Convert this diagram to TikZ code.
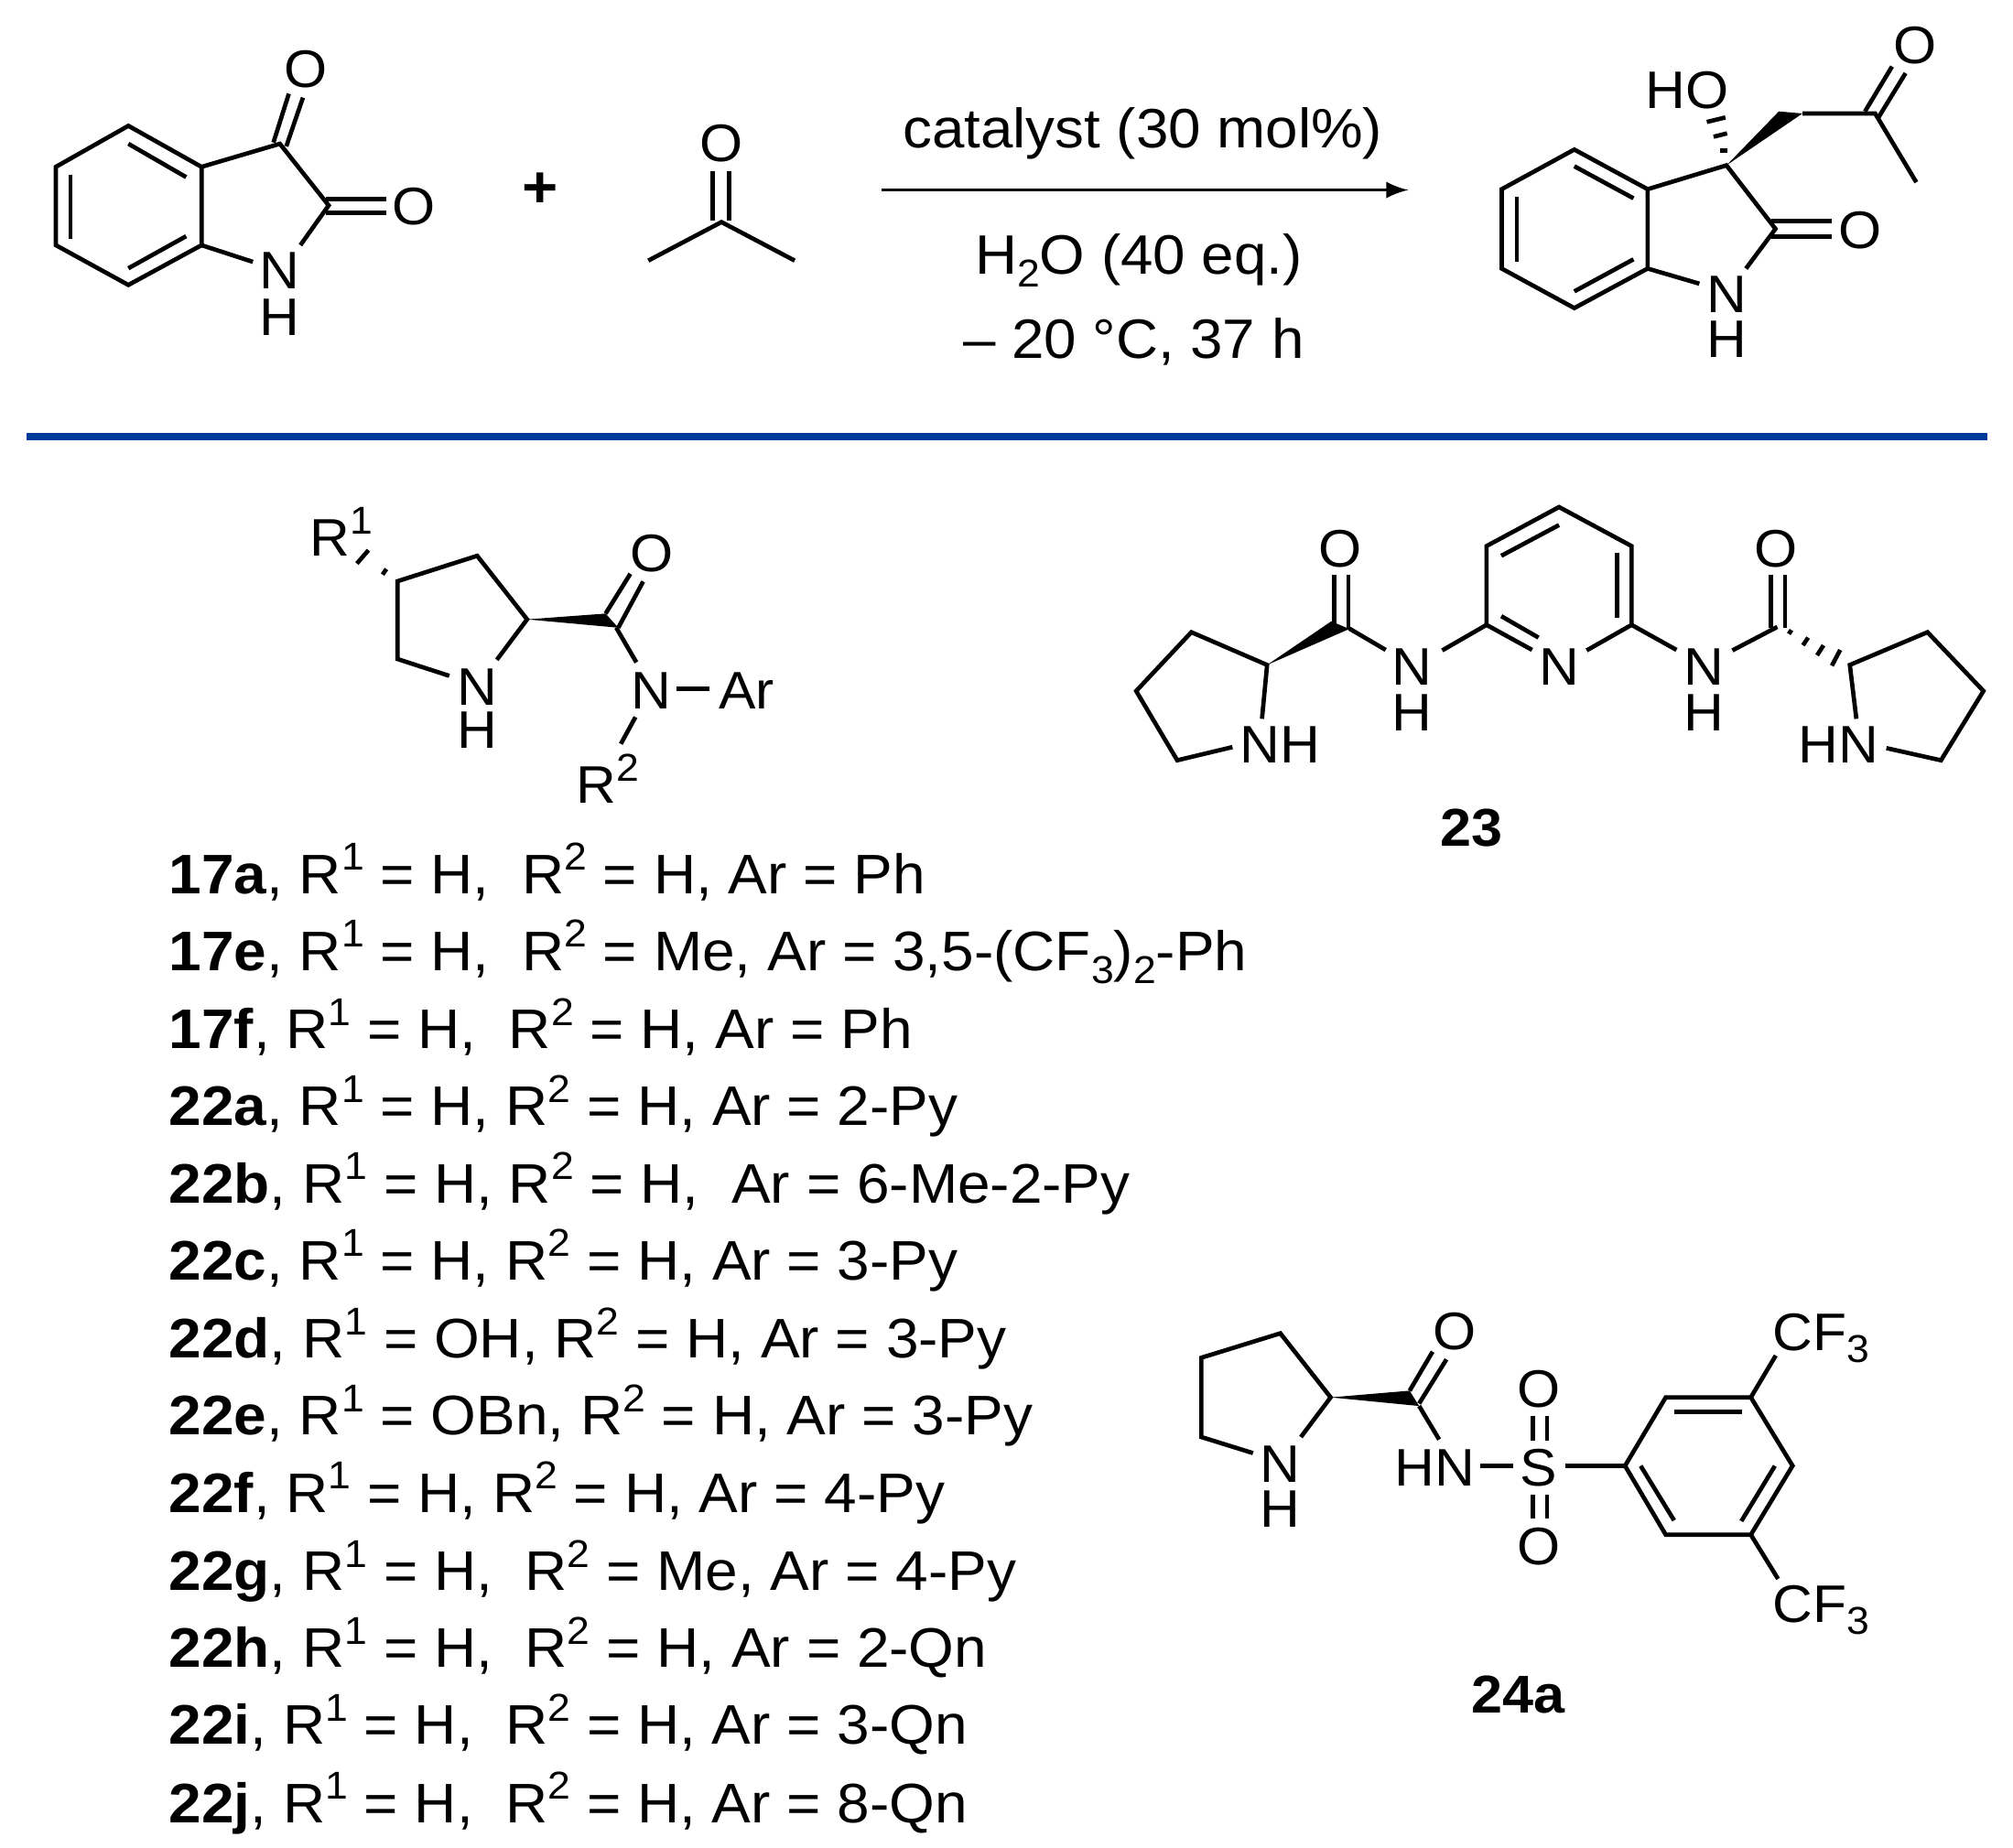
\documentclass[tikz,border=0pt]{standalone}
\usepackage{fontspec}
\setmainfont[FakeStretch=1.05]{Liberation Sans}
\usetikzlibrary{scopes}
\definecolor{rule}{RGB}{0,58,155}
\newcommand{\sups}[1]{\raisebox{.42em}{\fontsize{8.6}{9}\selectfont #1}}
\newcommand{\subs}[1]{\raisebox{-.23em}{\fontsize{8.6}{9}\selectfont #1}}
\begin{document}
\begin{tikzpicture}[
    x=0.01cm,y=-0.01cm,
    bond/.style={line width=0.95pt,line join=miter,line cap=butt},
    wedge/.style={fill=black,draw=black,line width=0.2pt},
    atom/.style={font=\fontsize{11.7}{14}\selectfont,inner sep=0pt},
    cond/.style={font=\fontsize{12.3}{15}\selectfont,inner sep=0pt},
    lbl/.style={font=\fontsize{11.8}{15}\selectfont\bfseries,inner sep=0pt},
    entry/.style={font=\fontsize{12.35}{15}\selectfont,inner sep=0pt,anchor=base west},
    divider/.style={draw=rule,line width=1.55pt},
]
	\useasboundingbox (0,0) rectangle (1568,1439.6);
	{[bond]
	% isatin
	\draw (100,98)--(157,130)--(157,191)--(100,222)--(43.5,191)--(43.5,130)--cycle; %benzene
	\draw (100,112)--(145,138); \draw (100,209)--(145,184); \draw (55,136)--(55,186); %inner
	\draw (157,130)--(218,112)--(256,160)--(234,191); %ring
	\draw (157,191)--(197,204);
	\draw (213,111)--(225,73); \draw (223,114)--(236,76); %upper CO
	\draw (254,155)--(301,155); \draw (254,166)--(301,166); %lower CO
	% acetone
	\draw (505,203)--(562,173)--(619,203);
	\draw (555,172)--(555,133); \draw (568,172)--(568,133);
	% product
	\draw (1226.3,116.5)--(1283.4,147.4)--(1283.4,209.2)--(1226.3,240)--(1169.7,209.2)--(1169.7,147.4)--cycle; %benzene
	\draw (1226.3,129.5)--(1272.4,154.5); \draw (1226.3,227)--(1272.4,202); \draw (1181.5,153.3)--(1181.5,204); %inner
	\draw (1283.4,147.4)--(1344.8,128.8)--(1383,178.3)--(1360,209.2); %ring
	\draw (1283.4,209.2)--(1323.7,221);
	\draw (1380,172.3)--(1427,172.3); \draw (1380,184.2)--(1427,184.2); %lactam CO
	\draw (1404,88.4)--(1460.6,88.4)--(1492.7,142); %side chain
	\draw (1452.7,86.8)--(1473.8,51.8); \draw (1463.2,91.5)--(1484.3,57); %ketone CO
	\draw (1329.5,95)--(1344,91.5); \draw (1334.8,106.5)--(1345.3,103.9); \draw (1339.5,117.2)--(1345.3,117.2); %hash
	% catalyst 17, 22
	\draw (350,526.5)--(309.6,513.4)--(309.6,452.8)--(371.7,433)--(410.6,482.5)--(387,514); %ring
	\draw (471.7,478)--(491,447); \draw (481.6,489)--(501,453); %CO
	\draw (480,489)--(495.7,516);
	\draw (526.7,536.5)--(552.7,536.5); %N-Ar
	\draw (495,558.6)--(483.6,579.5); %N-R2
	\draw (287,428.6)--(278,439); \draw (301,443.3)--(298,447.6); %hash
	% catalyst 23
	\draw (960,582)--(917,592.3)--(885,538.3)--(928,492.5)--(987,518)--(983,560); %left ring
	\draw (1039.4,486.7)--(1039.4,448); \draw (1050.4,489.6)--(1050.4,448); %left CO
	\draw (1050.9,489.6)--(1079.4,506.3); \draw (1123.4,506.7)--(1157.9,486.8);
	\draw (1193.4,506.3)--(1157.9,486.8)--(1157.9,425.4)--(1214.4,395)--(1270.9,425.4)--(1270.9,486.8)--(1235.9,506.7); %pyridine
	\draw (1169.4,433)--(1214.4,409); \draw (1259.4,431)--(1259.4,481.3); \draw (1169.4,480)--(1198.4,496.7); %inner
	\draw (1270.9,486.8)--(1305.9,506.3); \draw (1349.4,506.7)--(1384.4,488.4);
	\draw (1379.4,489)--(1379.4,448); \draw (1390.4,489)--(1390.4,448); %right CO
	\draw (1393.4,493.9)--(1395.4,490.8); \draw (1404.4,502.7)--(1408.4,496.7); %hash
	\draw (1415.4,510.5)--(1420.4,502.7); \draw (1426.9,518.6)--(1433.4,506.3);
	\draw (1469.4,582.8)--(1511.9,592.3)--(1545,538.3)--(1501.4,492.5)--(1440.9,518)--(1446,560); %right ring
	% catalyst 24a
	\draw (976,1132)--(935.8,1119.5)--(935.8,1057.7)--(997.3,1038.7)--(1036.5,1088.6)--(1013.3,1119.5); %ring
	\draw (1098,1083.4)--(1115.9,1053); \draw (1105.4,1093.4)--(1126.7,1059); %CO
	\draw (1105.4,1095.3)--(1121,1121.4);
	\draw (1153.2,1141.9)--(1178.9,1141.9);
	\draw (1193.8,1103.4)--(1193.8,1122); \draw (1205,1103.4)--(1205,1122); %upper SO
	\draw (1193.8,1164.7)--(1193.8,1183.2); \draw (1205,1164.7)--(1205,1183.2); %lower SO
	\draw (1219.2,1141.9)--(1265.8,1141.9);
	\draw (1265.8,1141.9)--(1297.5,1088.6)--(1363.8,1088.6)--(1396.3,1141.9)--(1363.8,1195.6)--(1297.5,1195.6)--cycle; %benzene
	\draw (1304,1100)--(1357,1100); \draw (1278,1142)--(1304,1184.4); \draw (1382.5,1142)--(1356.4,1185); %inner
	\draw (1363.8,1088.6)--(1383.2,1056); \draw (1363.8,1195.6)--(1385,1230); %CF3
	}
	{[wedge]
	\fill (1344.8,128.8)--(1385.6,86.8)--(1404,88.4)--cycle;
	\fill (410.6,482.5)--(471.7,478)--(481.6,489)--cycle;
	\fill (987,518)--(1037,484)--(1051,490)--cycle;
	\fill (1036.5,1088.6)--(1098,1083.4)--(1105.4,1095.3)--cycle;
	}
	{[atom]
	\node (isO) at (238,54) {O};
	\node (isOb) at (322,161) {O};
	\node (isN) at (218,211) {N};
	\node (isH) at (218,247) {H};
	\node (acO) at (562,112) {O};
	\node (prHO) at (1314,70) {HO};
	\node (prO) at (1491.4,35.7) {O};
	\node (prOb) at (1448.8,179.5) {O};
	\node (prN) at (1344.8,229.4) {N};
	\node (prH) at (1344.8,264.6) {H};
	\node (aR) [anchor=base west] at (241,433) {R\sups{1}};
	\node (aO) at (508,431.4) {O};
	\node (aNr) at (371.7,535) {N};
	\node (aHr) at (371.7,569) {H};
	\node (aN) at (507.6,538.4) {N};
	\node (aAr) at (581.7,538.4) {Ar};
	\node (aRb) [anchor=base west] at (448,626) {R\sups{2}};
	\node (bNHl) at (997,580.4) {NH};
	\node (bOl) at (1044,427.3) {O};
	\node (bNl) at (1100,519.3) {N};
	\node (bHl) at (1100,555) {H};
	\node (bNm) at (1214.4,519.3) {N};
	\node (bNr) at (1327.4,519.3) {N};
	\node (bHr) at (1327.4,555) {H};
	\node (bOr) at (1383.4,427.3) {O};
	\node (bHN) at (1431.9,580.4) {HN};
	\node (cN) at (997.3,1140.9) {N};
	\node (cH) at (997.3,1175.4) {H};
	\node (cO) at (1133.4,1037.5) {O};
	\node (cHN) at (1117.7,1143.3) {HN};
	\node (cS) at (1198.7,1143.3) {S};
	\node (cOu) at (1198.7,1082) {O};
	\node (cOd) at (1198.7,1204.6) {O};
	\node (cCFu) [anchor=base west] at (1380,1052) {CF\subs{3}};
	\node (cCFd) [anchor=base west] at (1380,1264) {CF\subs{3}};
	}
	% reaction
	\node (plus) [atom] at (421,148) {\fontsize{13}{14}\selectfont\bfseries +};
	\coordinate (arrowA) at (687,148);
	\coordinate (arrowB) at (1097,148);
	\draw [->,>=latex,line width=0.7pt] (arrowA)--(arrowB);
	{[cond]
	\node (catal) at (890,104) {catalyst (30 mol\%)};
	\node (water) at (887,203) {H\subs{2}O (40 eq.)};
	\node (temp) at (883,266) {– 20 °C, 37 h};
	}
	\draw [divider] (21,340)--(1548,340);
	{[lbl]
	\node (l23) at (1145.9,645.3) {23};
	\node (l24a) at (1182.6,1320.4) {24a};
	}
	{[entry]
	\node (e1) at (131,696) {\textbf{17a}, R\sups{1} = H, \ R\sups{2} = H, Ar = Ph};
	\node (e2) at (131,756) {\textbf{17e}, R\sups{1} = H, \ R\sups{2} = Me, Ar = 3,5-(CF\subs{3})\subs{2}-Ph};
	\node (e3) at (131,817) {\textbf{17f}, R\sups{1} = H, \ R\sups{2} = H, Ar = Ph};
	\node (e4) at (131,877) {\textbf{22a}, R\sups{1} = H, R\sups{2} = H, Ar = 2-Py};
	\node (e5) at (131,937) {\textbf{22b}, R\sups{1} = H, R\sups{2} = H, \ Ar = 6-Me-2-Py};
	\node (e6) at (131,997) {\textbf{22c}, R\sups{1} = H, R\sups{2} = H, Ar = 3-Py};
	\node (e7) at (131,1058) {\textbf{22d}, R\sups{1} = OH, R\sups{2} = H, Ar = 3-Py};
	\node (e8) at (131,1118) {\textbf{22e}, R\sups{1} = OBn, R\sups{2} = H, Ar = 3-Py};
	\node (e9) at (131,1178) {\textbf{22f}, R\sups{1} = H, R\sups{2} = H, Ar = 4-Py};
	\node (e10) at (131,1239) {\textbf{22g}, R\sups{1} = H, \ R\sups{2} = Me, Ar = 4-Py};
	\node (e11) at (131,1299) {\textbf{22h}, R\sups{1} = H, \ R\sups{2} = H, Ar = 2-Qn};
	\node (e12) at (131,1359) {\textbf{22i}, R\sups{1} = H, \ R\sups{2} = H, Ar = 3-Qn};
	\node (e13) at (131,1420) {\textbf{22j}, R\sups{1} = H, \ R\sups{2} = H, Ar = 8-Qn};
	}
\end{tikzpicture}
\end{document}
